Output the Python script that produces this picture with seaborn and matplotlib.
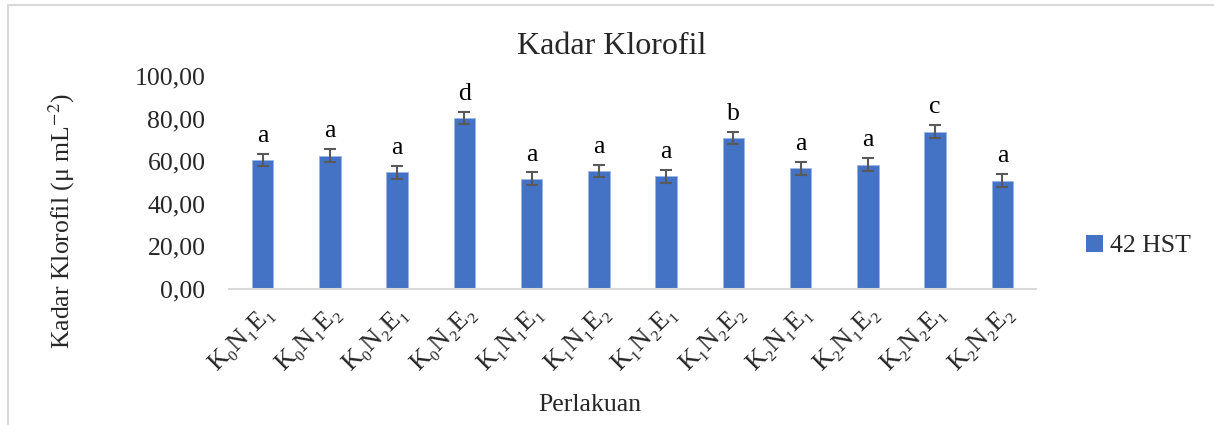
import matplotlib
matplotlib.use("Agg")
import matplotlib.pyplot as plt
import seaborn as sns
import pandas as pd
from matplotlib.lines import Line2D
from matplotlib.patches import Patch

categories = ["K₀N₁E₁", "K₀N₁E₂", "K₀N₂E₁", "K₀N₂E₂", "K₁N₁E₁", "K₁N₁E₂",
              "K₁N₂E₁", "K₁N₂E₂", "K₂N₁E₁", "K₂N₁E₂", "K₂N₂E₁", "K₂N₂E₂"]
values = [60.6, 62.6, 54.8, 80.3, 51.8, 55.5, 52.9, 70.9, 56.6, 58.4, 73.8, 50.8]
errors = [2.9, 3.0, 3.0, 2.9, 2.9, 2.9, 3.0, 3.0, 2.9, 3.0, 3.0, 3.0]
letters = ["a", "a", "a", "d", "a", "a", "a", "b", "a", "a", "c", "a"]
series_name = "42 HST"
yticks = [0, 20, 40, 60, 80, 100]

sns.set_theme(style="white")
plt.rcParams['font.family'] = ['Liberation Serif', 'DejaVu Serif']
plt.rcParams['mathtext.fontset'] = 'stix'

df = pd.DataFrame({"cat": categories, "val": values})

fig = plt.figure(figsize=(12.14, 4.25), dpi=100)
ax = fig.add_axes([229/1214, 1-289/425, (1036-229)/1214, (289-76)/425])

bar_color = "#4472C4"
sns.barplot(data=df, x="cat", y="val", color=bar_color, width=0.32, ax=ax,
            edgecolor="#9DB5E3", linewidth=0.6, saturation=1, errorbar=None)
xs = range(len(categories))
ax.errorbar(list(xs), values, yerr=errors, fmt="none", ecolor="#595959",
            elinewidth=1.5, capsize=4.5, capthick=1.5)
for x, v, e, l in zip(xs, values, errors, letters):
    ax.annotate(l, (x, v + e), xytext=(0, 5), textcoords="offset points",
                ha="center", va="bottom", fontsize=18.5, color="black")

ax.set_ylim(0, 100)
ax.set_xlim(-0.5, len(categories) - 0.5)
ax.set_yticks(yticks)
ax.set_yticklabels([f"{t:.2f}".replace(".", ",") for t in yticks], fontsize=18.5)
ax.set_xticks(list(xs))
ax.set_xticklabels(categories, rotation=45, ha="right", rotation_mode="anchor", fontsize=19)
ax.tick_params(axis="x", length=0, pad=9)
ax.tick_params(axis="y", length=0, pad=17)
ax.set_xlabel("")
ax.set_ylabel("")
for s in ["top", "right", "left"]:
    ax.spines[s].set_visible(False)
ax.spines["bottom"].set_color("#D9D9D9")
ax.spines["bottom"].set_linewidth(1.5)
ax.grid(False)

fig.text(612/1214, 1-47/425, "Kadar Klorofil", ha="center", va="center", fontsize=23)
fig.text(590/1214, 1-405/425, "Perlakuan", ha="center", va="center", fontsize=18.5)
fig.text(62/1214, 1-221/425, r"Kadar Klorofil (μ mL$^{-2}$)", ha="center", va="center",
         rotation=90, fontsize=18.5)

handle = Patch(facecolor=bar_color, edgecolor="none")
fig.legend([handle], [series_name], loc="center left", bbox_to_anchor=(1073/1214, 1-246/425),
           frameon=False, fontsize=18.5, handlelength=0.65, handleheight=0.65,
           handletextpad=0.3, borderpad=0)

# chart border (top and left visible)
fig.add_artist(Line2D([8/1214, 8/1214], [0, 1-5/425], transform=fig.transFigure,
                      color="#D9D9D9", linewidth=1.5))
fig.add_artist(Line2D([8/1214, 1], [1-5/425, 1-5/425], transform=fig.transFigure,
                      color="#D9D9D9", linewidth=1.5))

fig.savefig("out.png", dpi=100, facecolor="white")
